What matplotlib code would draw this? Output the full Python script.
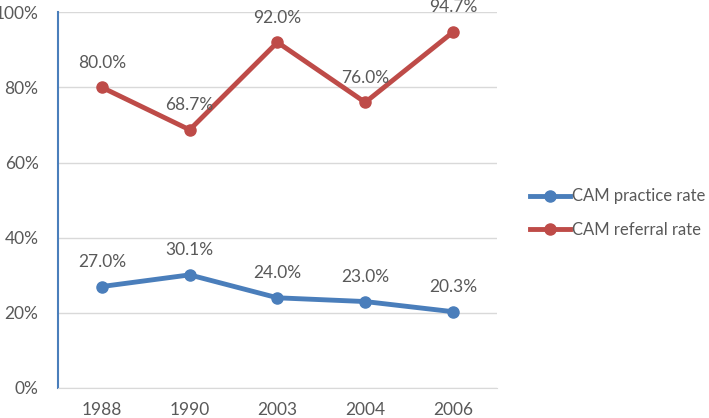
import matplotlib.pyplot as plt
from matplotlib.ticker import PercentFormatter

plt.rcParams['font.family'] = ['Lato', 'DejaVu Sans']

# data
years = ["1988", "1990", "2003", "2004", "2006"]
practice_rate = [27.0, 30.1, 24.0, 23.0, 20.3]
referral_rate = [80.0, 68.7, 92.0, 76.0, 94.7]

blue = "#4A7EBB"
red = "#BE4B48"
text_col = "#595959"
fs = 12.5

fig = plt.figure(figsize=(7.09, 4.18), dpi=100)
ax = fig.add_axes([0.0818, 0.0718, 0.619, 0.899])

x = list(range(len(years)))
ax.plot(x, practice_rate, color=blue, lw=3.5, marker="o", ms=8, label="CAM practice rate", zorder=3)
ax.plot(x, referral_rate, color=red, lw=3.5, marker="o", ms=8, label="CAM referral rate", zorder=3)

for xi, v in zip(x, practice_rate):
    ax.annotate(f"{v:.1f}%", (xi, v), xytext=(0, 12), textcoords="offset points",
                ha="center", va="bottom", fontsize=fs, color=text_col)
for xi, v in zip(x, referral_rate):
    ax.annotate(f"{v:.1f}%", (xi, v), xytext=(0, 12), textcoords="offset points",
                ha="center", va="bottom", fontsize=fs, color=text_col)

ax.set_xlim(-0.5, len(years) - 0.5)
ax.set_ylim(0, 100)
ax.set_yticks(range(0, 101, 20))
ax.yaxis.set_major_formatter(PercentFormatter(decimals=0))
ax.set_xticks(x)
ax.set_xticklabels(years)
ax.tick_params(length=0, labelsize=fs, labelcolor=text_col)
ax.tick_params(axis="x", pad=10)
ax.tick_params(axis="y", pad=14)

ax.grid(axis="y", color="#D9D9D9", lw=1)
ax.set_axisbelow(True)
for s in ["top", "right"]:
    ax.spines[s].set_visible(False)
ax.spines["bottom"].set_color("#D9D9D9")
ax.spines["left"].set_color(blue)
ax.spines["left"].set_linewidth(1.5)

ax.legend(loc="center left", bbox_to_anchor=(1.06, 0.465), frameon=False,
          fontsize=12, labelcolor=text_col, handlelength=2.4, labelspacing=1.05,
          handletextpad=0.15, borderaxespad=0)

plt.savefig("out.png", dpi=100)
